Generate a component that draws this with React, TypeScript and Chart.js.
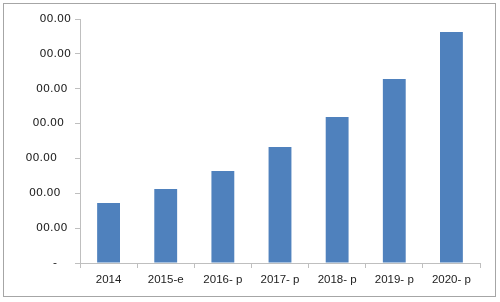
import React, { useEffect, useRef } from "react";
import { Chart, registerables } from "chart.js";

Chart.register(...registerables);

const categories = ["2014", "2015-e", "2016- p", "2017- p", "2018- p", "2019- p", "2020- p"];
const values = [1.72, 2.12, 2.64, 3.33, 4.19, 5.28, 6.63];
const yTickLabels = ["-    ", "00.00 ", "00.00   ", "00.00    ", "00.00  ", "00.00 ", "00.00", "00.00"];

export default function App() {
  const ref = useRef<HTMLCanvasElement>(null);
  useEffect(() => {
    if (!ref.current) return;
    const chart = new Chart(ref.current, {
      type: "bar",
      data: {
        labels: categories,
        datasets: [
          {
            data: values,
            backgroundColor: "#4F81BD",
            borderWidth: 0,
            barPercentage: 0.4,
            categoryPercentage: 1,
          },
        ],
      },
      options: {
        responsive: false,
        animation: false,
        devicePixelRatio: 1,
        layout: { padding: { top: 19, right: 20, left: 0, bottom: 0 } },
        plugins: { legend: { display: false }, tooltip: { enabled: false } },
        scales: {
          x: {
            type: "category",
            offset: true,
            grid: { display: true, drawOnChartArea: false, drawTicks: true, tickLength: 5, offset: true, color: "#BFBFBF" },
            border: { display: true, color: "#BFBFBF", width: 1 },
            ticks: { font: { family: "Liberation Sans", size: 11.5 }, color: "#222", padding: 5, maxRotation: 0 },
            afterFit: (s: any) => { s.height = 39; },
          },
          y: {
            min: 0,
            max: 7,
            ticks: {
              stepSize: 1,
              callback: (v: any) => yTickLabels[Math.round(Number(v))],
              font: { family: "DejaVu Sans", size: 11 },
              color: "#222",
              padding: 4,
            },
            grid: { drawOnChartArea: false, drawTicks: true, tickLength: 5, color: "#BFBFBF" },
            border: { display: true, color: "#BFBFBF", width: 1 },
            afterFit: (s: any) => { s.width = 80; },
          },
        },
      },
    });
    return () => chart.destroy();
  }, []);
  return (
    <div style={{ position: "fixed", left: 0, top: 0, width: 500, height: 302, background: "#fff" }}>
      <canvas ref={ref} width={500} height={302} style={{ position: "absolute", left: 0, top: 0 }} />
      <div
        style={{
          position: "absolute",
          left: 3,
          top: 3,
          width: 493,
          height: 294,
          boxSizing: "border-box",
          border: "1px solid #A6A6A6",
          pointerEvents: "none",
        }}
      />
    </div>
  );
}
